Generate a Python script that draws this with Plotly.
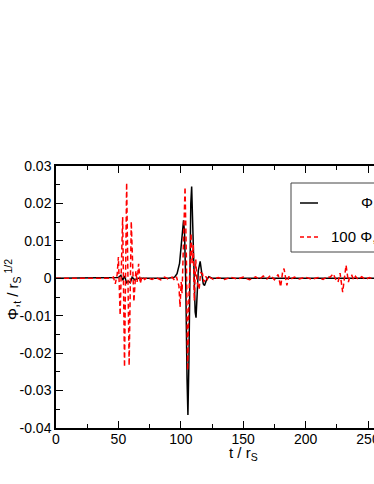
import plotly.graph_objects as go

# black curve: Phi,t
t_black = [0, 40, 48, 50, 52, 53.5, 55, 56.5, 58, 59.5, 61, 63, 66, 75, 90,
           95, 97, 99, 100.5, 101.5, 102.2, 103, 104, 105, 105.7, 106.5, 107.3,
           108, 108.7, 109.5, 110.5, 111.5, 112.2, 113, 114, 115.5, 116.5, 118,
           119, 120.5, 122.5, 125, 140, 300]
phi_black = [0, 0, 0, 0.0002, 0.0008, -0.0005, 0.0006, -0.0012, -0.0008, -0.0012,
             0.0003, -0.0004, 0, 0, 0,
             0.0003, 0.0012, 0.004, 0.009, 0.0135, 0.0155, 0.012, -0.002, -0.027,
             -0.0365, -0.022, 0.005, 0.02, 0.0245, 0.015, -0.002, -0.009, -0.0105,
             -0.005, 0.002, 0.0045, 0.002, -0.0015, -0.0019, -0.0005, 0.0004, 0, 0, 0]

# red dashed curve: 100 x second quantity
t_red = [0, 44, 46, 47.5, 49, 50, 51.4, 53.4, 54.9, 56.6, 58.6, 60.3, 62.4, 64, 65,
         66.2, 67.5, 69, 71, 73, 77, 80, 84, 87, 90, 93,
         95, 96.5, 97.5, 98.5, 99.4, 100.3, 101, 102, 103.4, 104.5, 105.5, 106.5,
         107.5, 108.2, 109, 110, 110.8, 112, 113, 114.7, 115.8, 117.4, 118.5, 120,
         121.5, 123, 126, 130, 135, 140, 145, 150, 155, 160, 163, 166, 169, 172,
         175, 178, 180, 181.5, 182.7, 184, 185, 186.5, 188, 191, 195, 200, 205, 210,
         214, 217, 219.6, 222.2, 224, 226, 227.6, 229.7, 232.4, 234.3, 235.5, 237,
         238.5, 240, 242, 245, 248, 251, 255, 260, 270, 280, 290, 300]
phi_red = [0, 0, 0.0003, -0.0015, 0.001, 0.0057, -0.0099, 0.0164, -0.0237, 0.0255,
           -0.0233, 0.0152, -0.0063, 0.002, -0.001,
           0.0039, -0.0014, 0.0005, -0.0003, 0.0002, -0.0003, 0.0002, -0.0004, 0.0003,
           -0.0002, 0.0003,
           -0.0005, 0.0004, -0.0008, -0.002, -0.0077, -0.001, -0.004, 0.01, 0.0244,
           0.005, -0.0246, -0.005, 0.008, 0.012, 0.004, 0.009, -0.006, 0.005, -0.001,
           -0.003, 0.0015, 0.0012, -0.001, 0.0005,
           -0.0005, 0.0003, -0.0003, 0.0002, -0.0003, 0.0003, -0.0002, 0.0003, -0.0004,
           0.0004, -0.0003, 0.0006, -0.0002, 0.0008, -0.0004,
           0.001, -0.0023, 0.0015, 0.0026, -0.0008, -0.0019, 0.0005, -0.0003, 0.0003,
           -0.0002, 0.0003, -0.0003, 0.0002,
           -0.0003, 0.0004, 0.0003, 0.0012, -0.0002, -0.001, 0.0014, -0.0037, 0.0035,
           -0.001, 0.0006, 0.0008, -0.0004, 0.0005, -0.0003, 0.0004, -0.0003, 0.0002,
           -0.0002, 0.0002, -0.0002, 0.0002, -0.0001, 0]

x_ticks = [0, 50, 100, 150, 200, 250, 300]
y_ticks = [-0.04, -0.03, -0.02, -0.01, 0, 0.01, 0.02, 0.03]
y_labels = ["-0.04", "-0.03", "-0.02", "-0.01", "0", "0.01", "0.02", "0.03"]

FONT = "Liberation Sans, Arial, sans-serif"

fig = go.Figure()
fig.add_trace(go.Scatter(x=t_black, y=phi_black, mode="lines",
                         line=dict(color="black", width=1.5), showlegend=False))
fig.add_trace(go.Scatter(x=t_red, y=phi_red, mode="lines",
                         line=dict(color="red", width=1.5, dash="5px,3px"),
                         showlegend=False))

axis_common = dict(showgrid=False, zeroline=False, showline=True, linecolor="black",
                   linewidth=1.5, ticks="inside", tickcolor="black", tickwidth=1,
                   ticklabeloverflow="allow", automargin=False,
                   tickfont=dict(family=FONT, size=14, color="black"))

# the original is cropped on the right, so the x range stops where the picture does
fig.update_xaxes(range=[0, 254.8], tickvals=x_ticks, ticklen=7, mirror="allticks",
                 ticklabelstandoff=-3,
                 minor=dict(ticks="inside", ticklen=4, dtick=25, tick0=0, tickcolor="black"),
                 **axis_common)
fig.update_yaxes(range=[-0.04, 0.03], tickvals=y_ticks, ticktext=y_labels, ticklen=7,
                 mirror=False,
                 minor=dict(ticks="inside", ticklen=4, dtick=0.005, tick0=0, tickcolor="black"),
                 **axis_common)

# legend drawn by hand (box runs off the right edge); coords in pixels
px = lambda v: (v - 56) / 318
py = lambda v: (428 - v) / 262
shapes = [
    dict(type="rect", xref="paper", yref="paper", x0=px(291), x1=px(420),
         y0=py(252), y1=py(183), line=dict(color="#444", width=1), fillcolor="white"),
    dict(type="line", xref="paper", yref="paper", x0=px(300), x1=px(318),
         y0=py(203), y1=py(203), line=dict(color="black", width=1.5)),
    dict(type="line", xref="paper", yref="paper", x0=px(300), x1=px(318),
         y0=py(237), y1=py(237), line=dict(color="red", width=1.5, dash="4px,3px")),
]
annotations = [
    dict(text="Φ,<sub>t</sub>", xref="paper", yref="paper", x=px(359), y=py(203),
         xanchor="left", yanchor="middle", showarrow=False,
         font=dict(family=FONT, size=15, color="black")),
    dict(text="100 Φ,<sub>t</sub>", xref="paper", yref="paper", x=px(329), y=py(237),
         xanchor="left", yanchor="middle", showarrow=False,
         font=dict(family=FONT, size=15, color="black")),
    dict(text="t / r<sub>S</sub>", xref="paper", yref="paper", x=px(243), y=py(453),
         xanchor="center", yanchor="middle", showarrow=False,
         font=dict(family=FONT, size=15, color="black")),
    dict(text="Φ,<sub>t</sub> / r<sub>S</sub><sup> 1/2</sup>", xref="paper", yref="paper",
         x=px(12), y=py(290), textangle=-90, xanchor="center", yanchor="middle",
         showarrow=False, font=dict(family=FONT, size=15, color="black")),
]

fig.update_layout(
    width=374, height=484,
    margin=dict(l=56, r=0, t=166, b=56),
    plot_bgcolor="white", paper_bgcolor="white",
    shapes=shapes, annotations=annotations,
    font=dict(family=FONT, color="black"),
)

# drop the default 8px page margin so the figure sits at the window corner
fig.write_html("out.html", config={"displayModeBar": False},
               post_script="document.body.style.margin='0';document.body.style.overflow='hidden';")
